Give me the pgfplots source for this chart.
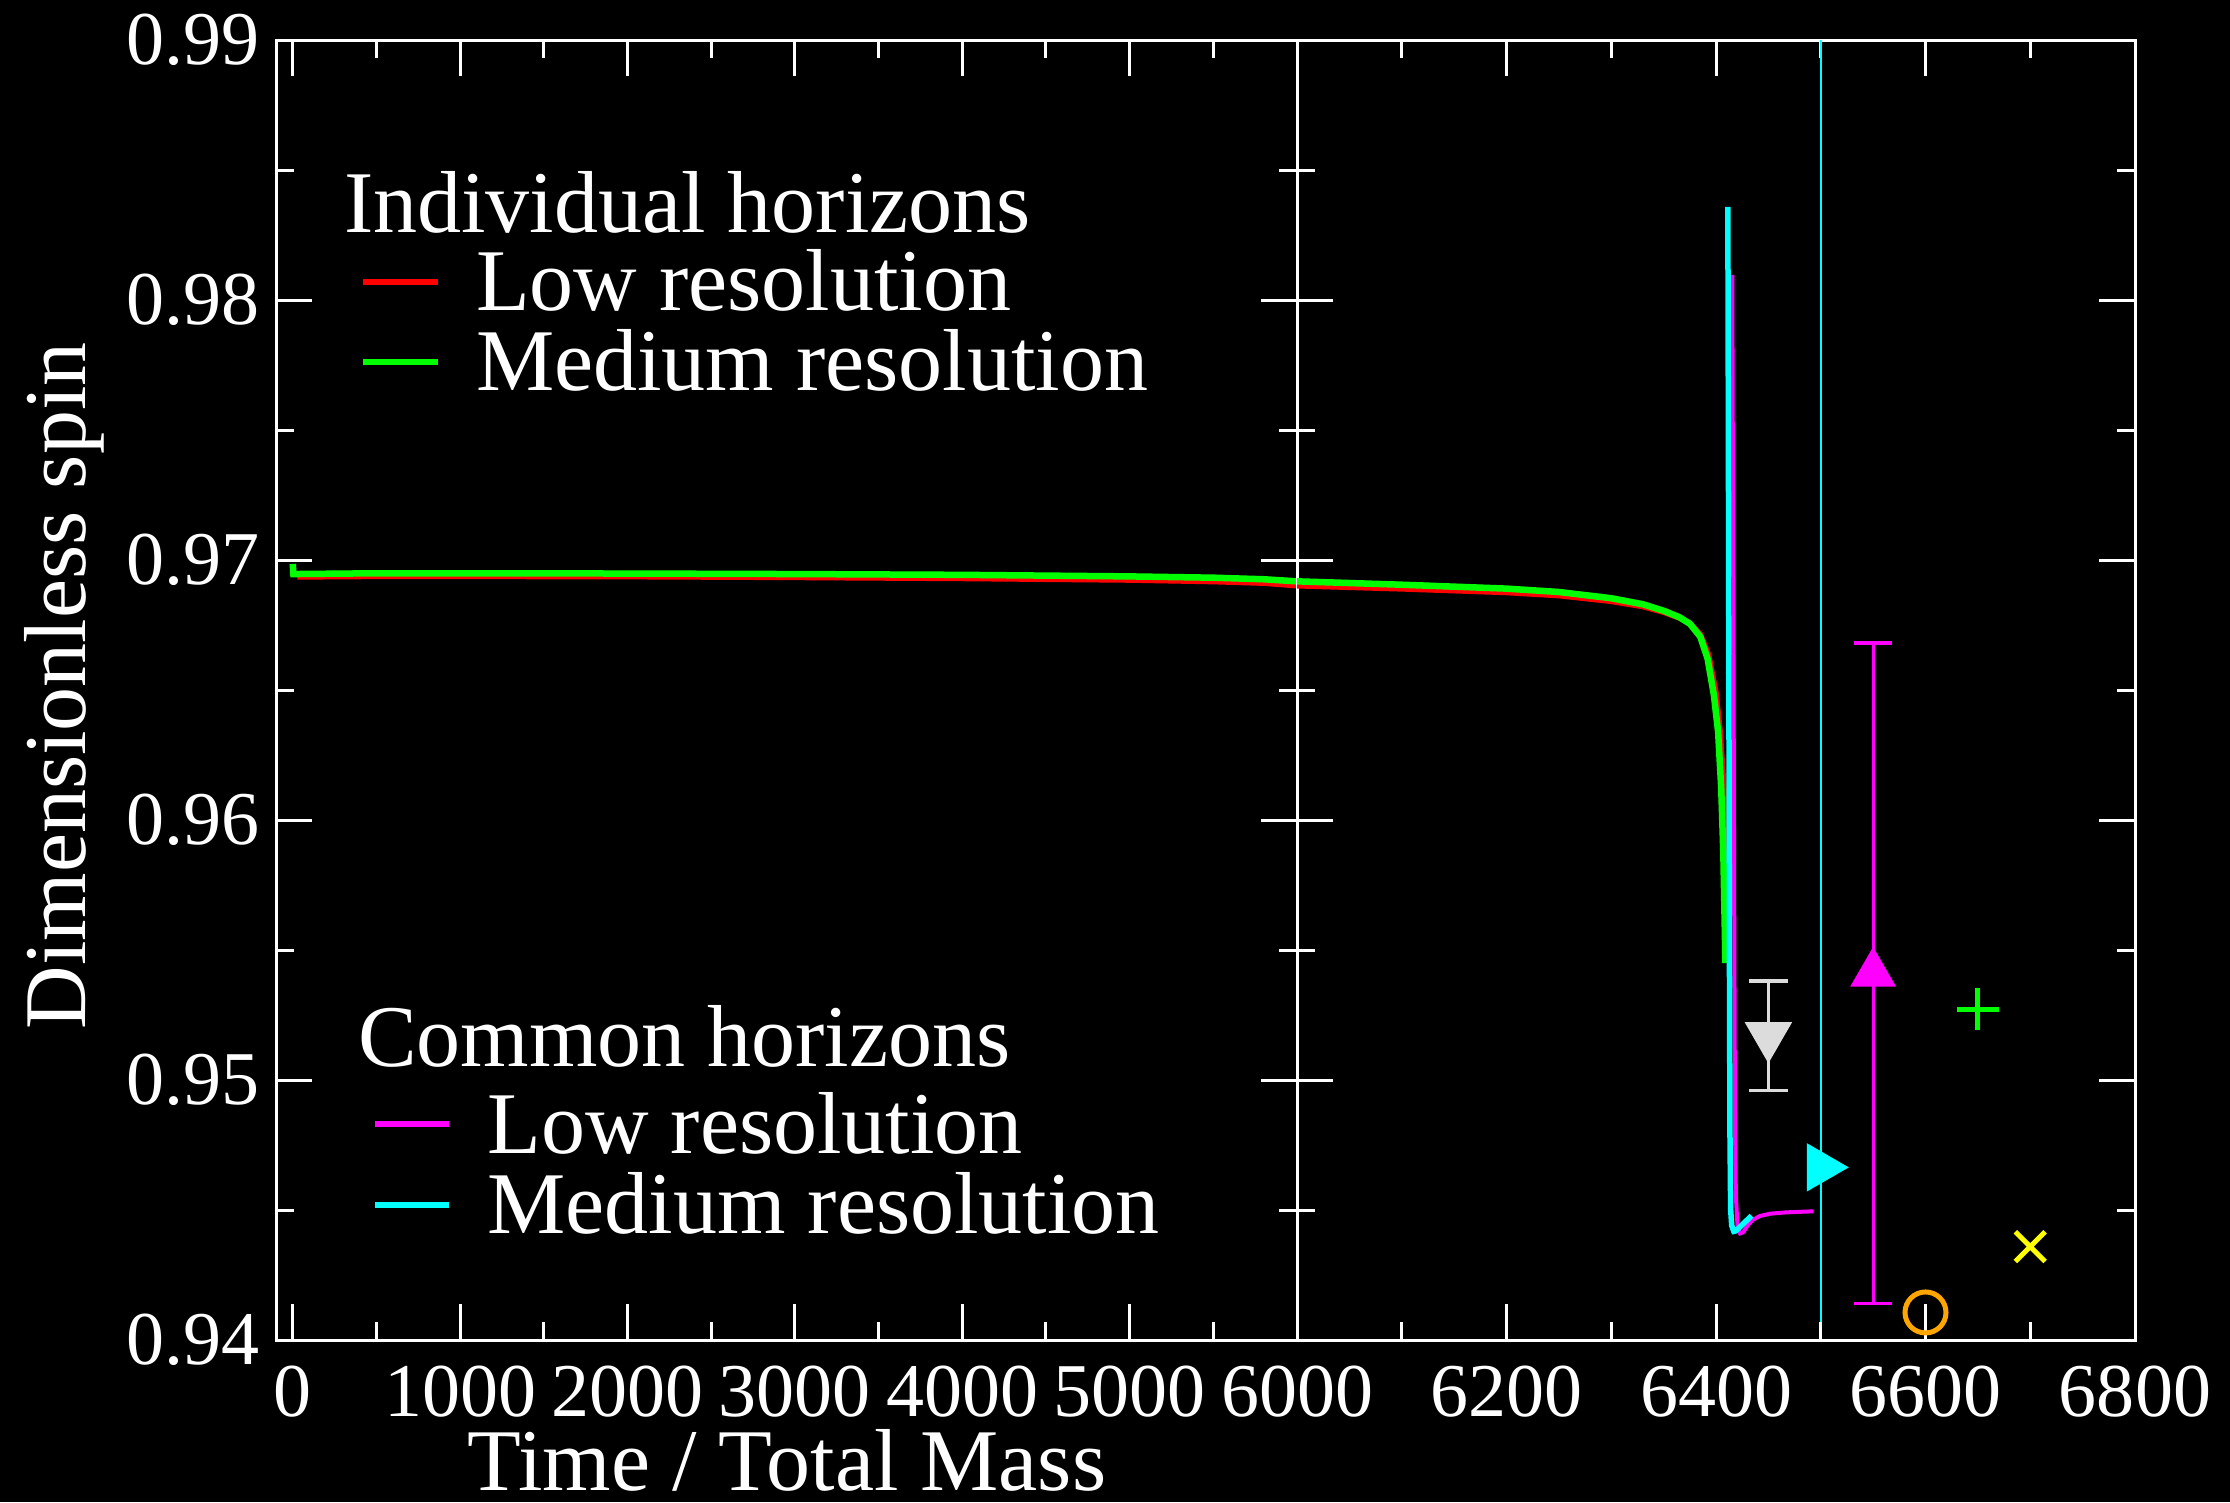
\documentclass[border=0pt]{standalone}
\usepackage{fontspec}
\setmainfont{Liberation Serif}
\usepackage{pgfplots}
\pgfplotsset{compat=1.18}
\definecolor{mygray}{RGB}{220,220,220}
\definecolor{myorange}{RGB}{255,165,0}
\definecolor{mycyan}{RGB}{0,255,255}
\definecolor{mymagenta}{RGB}{255,0,255}
\definecolor{myyellow}{RGB}{255,255,0}
\definecolor{mygreen}{RGB}{0,255,0}
\definecolor{myred}{RGB}{255,0,0}
\newcommand{\legfont}{\fontsize{17.6}{20}\selectfont}
\pgfplotsset{
  spinaxis/.style={
    scale only axis, height=260pt, anchor=south west,
    ymin=0.94, ymax=0.99,
    ytick={0.94,0.95,0.96,0.97,0.98,0.99},
    minor ytick={0.945,0.955,0.965,0.975,0.985},
    scaled ticks=false,
    axis line style={white, line width=0.6pt},
    tick style={white, line width=0.6pt},
    major tick length=7.2pt, minor tick length=3.6pt,
    tick label style={font=\fontsize{15.2}{16}\selectfont, text=white, inner sep=0pt},
    xticklabel style={yshift=-5pt},
    yticklabel style={xshift=-3.2pt},
    clip=true,
  }
}
\begin{document}
\begin{tikzpicture}
\path[use as bounding box] (0,0) rectangle (446pt,300.4pt);
\fill[black] (0,0) rectangle (446pt,300.4pt);

\begin{axis}[spinaxis, at={(55.2pt,32.4pt)}, width=204.2pt,
  xmin=-100, xmax=6000,
  xtick={0,1000,2000,3000,4000,5000,6000},
  xticklabels={0,1000,2000,3000,4000,5000,6000},
  minor xtick={500,1500,2500,3500,4500,5500},
  yticklabels={0.94,0.95,0.96,0.97,0.98,0.99}]
\addplot[myred, line width=1.1pt] coordinates {
(28,0.96935) (500,0.96937) (1000,0.96937) (2000,0.96936) (3000,0.96933)
(4000,0.96929) (5000,0.96923) (5500,0.96917) (5800,0.96911) (6000,0.96901)};
\addplot[mygreen, line width=1.3pt] coordinates {
(0,0.96985) (4,0.96946) (500,0.96949) (1000,0.96949) (2000,0.96948) (3000,0.96946)
(4000,0.96943) (5000,0.96937) (5500,0.96932) (5800,0.96926) (6000,0.96918)};
\end{axis}

\begin{axis}[spinaxis, at={(259.4pt,32.4pt)}, width=167.6pt,
  xmin=6000, xmax=6800,
  xtick={6000,6200,6400,6600,6800},
  xticklabels={,6200,6400,6600,6800},
  minor xtick={6100,6300,6500,6700},
  yticklabels={}]
\addplot[myred, line width=1.1pt] coordinates {
(6000,0.96901) (6100,0.96889) (6200,0.96875) (6250,0.96863) (6300,0.96841)
(6330,0.96821) (6350,0.96799) (6365,0.96777) (6375,0.96757) (6385,0.96715)
(6393,0.96635) (6400,0.96490) (6404,0.96340) (6408,0.96100) (6410,0.95850) (6412,0.95550)};
\addplot[mygreen, line width=1.3pt] coordinates {
(6000,0.96918) (6100,0.96905) (6200,0.96890) (6250,0.96877) (6300,0.96853)
(6330,0.96830) (6350,0.96805) (6365,0.96780) (6375,0.96755) (6385,0.96705)
(6392,0.96620) (6398,0.96480) (6402,0.96340) (6405,0.96120) (6407,0.95870) (6409,0.95450)};
\addplot[mymagenta, line width=0.8pt] coordinates {
(6415.5,0.98097) (6416,0.9750) (6416.8,0.9650) (6417.5,0.9550) (6418.2,0.9480)
(6419,0.9455) (6420.5,0.94440) (6423,0.94410) (6426,0.94415) (6430,0.94440)
(6435,0.94462) (6442,0.94477) (6452,0.94486) (6467,0.94491) (6480,0.94493) (6493,0.94495)};
\addplot[mycyan, line width=1.1pt] coordinates {
(6411.3,0.98358) (6411.8,0.9750) (6412.3,0.9650) (6412.8,0.9550) (6413.3,0.9480)
(6414,0.9450) (6415,0.94440) (6417,0.94418) (6419,0.94420) (6423,0.94435)
(6428,0.94455) (6434,0.94478)};
% vertical cyan bar
\addplot[mycyan, line width=0.45pt] coordinates {(6500,0.9407) (6500,1.0)};
% gray down triangle with error bar
\addplot[mygray, only marks, mark=triangle*, mark size=5.1pt,
  mark options={rotate=180, fill=mygray, draw=mygray},
  error bars/.cd, y dir=both, y explicit,
  error bar style={mygray, line width=0.6pt},
  error mark=|, error mark options={mygray, mark size=3.9pt, line width=0.7pt}]
  coordinates {(6450,0.9517) +- (0,0.0021)};
% magenta up triangle with error bar
\addplot[mymagenta, only marks, mark=triangle*, mark size=4.9pt,
  mark options={fill=mymagenta, draw=mymagenta},
  error bars/.cd, y dir=both, y explicit,
  error bar style={mymagenta, line width=0.6pt},
  error mark=|, error mark options={mymagenta, mark size=3.8pt, line width=0.7pt}]
  coordinates {(6550,0.9541) +- (0,0.0127)};
% cyan right triangle
\addplot[mycyan, only marks, mark=triangle*, mark size=5.2pt,
  mark options={rotate=-90, fill=mycyan, draw=mycyan}] coordinates {(6500,0.94664)};
% green plus
\addplot[mygreen, only marks, mark=+, mark size=4.2pt, mark options={line width=1pt}]
  coordinates {(6650,0.95273)};
% yellow x
\addplot[myyellow, only marks, mark=x, mark size=4.2pt, mark options={line width=1pt}]
  coordinates {(6700,0.94359)};
% orange circle
\addplot[myorange, only marks, mark=o, mark size=4.1pt, mark options={line width=1pt}]
  coordinates {(6600,0.94106)};
\end{axis}

% axis labels
\node[rotate=90, anchor=base, inner sep=0, text=white, font=\legfont] at (17.0pt,163.2pt) {Dimensionless spin};
\node[anchor=base, inner sep=0, text=white, font=\legfont] at (157.4pt,2.4pt) {Time / Total Mass};

% legend
\node[anchor=base west, inner sep=0, text=white, font=\legfont] at (68.6pt,253.8pt) {Individual horizons};
\draw[myred, line width=1.2pt] (72.6pt,244pt) -- (87.6pt,244pt);
\node[anchor=base west, inner sep=0, text=white, font=\legfont] at (95pt,238.2pt) {Low resolution};
\draw[mygreen, line width=1.2pt] (72.6pt,228pt) -- (87.6pt,228pt);
\node[anchor=base west, inner sep=0, text=white, font=\legfont] at (95pt,222.4pt) {Medium resolution};

\node[anchor=base west, inner sep=0, text=white, font=\legfont] at (71.4pt,87.2pt) {Common horizons};
\draw[mymagenta, line width=1.2pt] (75pt,75.6pt) -- (89.8pt,75.6pt);
\node[anchor=base west, inner sep=0, text=white, font=\legfont] at (97.3pt,69.8pt) {Low resolution};
\draw[mycyan, line width=1.2pt] (75pt,59.4pt) -- (89.8pt,59.4pt);
\node[anchor=base west, inner sep=0, text=white, font=\legfont] at (97.3pt,53.8pt) {Medium resolution};
\end{tikzpicture}
\end{document}
